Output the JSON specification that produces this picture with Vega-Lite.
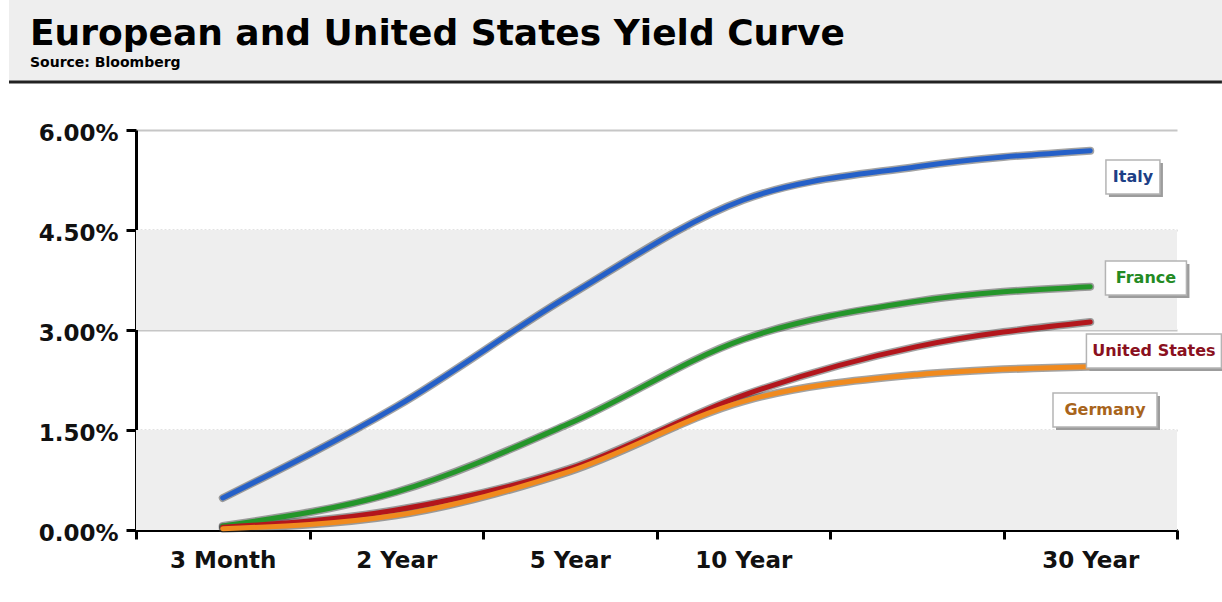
{
  "$schema": "https://vega.github.io/schema/vega-lite/v6.json",
  "width": 1041,
  "height": 400,
  "autosize": {"type": "none"},
  "padding": {"left": 136, "top": 130, "right": 45, "bottom": 72},
  "background": "white",
  "title": {
    "text": "European and United States Yield Curve",
    "subtitle": "Source: Bloomberg",
    "anchor": "start",
    "frame": "group",
    "dx": -106,
    "offset": -71,
    "font": "DejaVu Sans",
    "fontSize": 36,
    "fontWeight": "bold",
    "color": "#000000",
    "subtitleFont": "DejaVu Sans",
    "subtitleFontSize": 14,
    "subtitleFontWeight": "bold",
    "subtitleColor": "#000000",
    "subtitlePadding": 3
  },
  "config": {
    "view": {"stroke": null},
    "font": "DejaVu Sans"
  },
  "datasets": {
    "yields": [
      {"country": "Italy", "tenor": "3 Month", "step": 0, "yield": 0.48},
      {"country": "Italy", "tenor": "2 Year", "step": 1, "yield": 1.85},
      {"country": "Italy", "tenor": "5 Year", "step": 2, "yield": 3.52},
      {"country": "Italy", "tenor": "10 Year", "step": 3, "yield": 4.95},
      {"country": "Italy", "tenor": "20 Year", "step": 4, "yield": 5.45},
      {"country": "Italy", "tenor": "30 Year", "step": 5, "yield": 5.69},
      {"country": "France", "tenor": "3 Month", "step": 0, "yield": 0.06},
      {"country": "France", "tenor": "2 Year", "step": 1, "yield": 0.57},
      {"country": "France", "tenor": "5 Year", "step": 2, "yield": 1.60},
      {"country": "France", "tenor": "10 Year", "step": 3, "yield": 2.86},
      {"country": "France", "tenor": "20 Year", "step": 4, "yield": 3.43},
      {"country": "France", "tenor": "30 Year", "step": 5, "yield": 3.65},
      {"country": "United States", "tenor": "3 Month", "step": 0, "yield": 0.04},
      {"country": "United States", "tenor": "2 Year", "step": 1, "yield": 0.30},
      {"country": "United States", "tenor": "5 Year", "step": 2, "yield": 0.92},
      {"country": "United States", "tenor": "10 Year", "step": 3, "yield": 2.02},
      {"country": "United States", "tenor": "20 Year", "step": 4, "yield": 2.75},
      {"country": "United States", "tenor": "30 Year", "step": 5, "yield": 3.12},
      {"country": "Germany", "tenor": "3 Month", "step": 0, "yield": 0.02},
      {"country": "Germany", "tenor": "2 Year", "step": 1, "yield": 0.22},
      {"country": "Germany", "tenor": "5 Year", "step": 2, "yield": 0.88},
      {"country": "Germany", "tenor": "10 Year", "step": 3, "yield": 1.93},
      {"country": "Germany", "tenor": "20 Year", "step": 4, "yield": 2.33},
      {"country": "Germany", "tenor": "30 Year", "step": 5, "yield": 2.45}
    ],
    "labels": [
      {"country": "Italy", "label_step": 5.246, "label_yield": 5.295},
      {"country": "France", "label_step": 5.321, "label_yield": 3.78},
      {"country": "United States", "label_step": 5.367, "label_yield": 2.685},
      {"country": "Germany", "label_step": 5.085, "label_yield": 1.80}
    ],
    "bands": [
      {"lo": 0, "hi": 1.5},
      {"lo": 3, "hi": 4.5}
    ]
  },
  "encoding": {
    "x": {
      "type": "quantitative",
      "scale": {"domain": [-0.5, 5.5], "nice": false, "zero": false},
      "axis": {
        "title": null,
        "grid": false,
        "values": [-0.5, 0, 0.5, 1, 1.5, 2, 2.5, 3, 3.5, 4, 4.5, 5, 5.5],
        "labelExpr": "datum.value == 0 ? '3 Month' : datum.value == 1 ? '2 Year' : datum.value == 2 ? '5 Year' : datum.value == 3 ? '10 Year' : datum.value == 5 ? '30 Year' : ''",
        "labelOverlap": false,
        "labelBound": false,
        "labelFlush": false,
        "labelFont": "DejaVu Sans",
        "labelFontSize": 23,
        "labelFontWeight": "bold",
        "labelColor": "#111111",
        "labelPadding": 10,
        "tickSize": 9,
        "tickWidth": 3,
        "tickColor": "#000000",
        "tickOpacity": {"condition": {"test": "datum.value % 1 == 0", "value": 0}, "value": 1},
        "domainColor": "#000000",
        "domainWidth": 3
      }
    },
    "y": {
      "type": "quantitative",
      "scale": {"domain": [0, 6], "nice": false},
      "axis": {
        "title": null,
        "values": [0, 1.5, 3, 4.5, 6],
        "labelExpr": "format(datum.value, '.2f') + '%'",
        "labelFont": "DejaVu Sans",
        "labelFontSize": 23,
        "labelFontWeight": "bold",
        "labelColor": "#111111",
        "labelPadding": 8,
        "labelOffset": 3,
        "tickSize": 10,
        "tickWidth": 3,
        "tickColor": "#000000",
        "domainColor": "#000000",
        "domainWidth": 3,
        "grid": true,
        "gridColor": "#c6c6c6",
        "gridWidth": 2,
        "gridDash": {"condition": {"test": "datum.value == 1.5 || datum.value == 4.5", "value": [2, 2]}, "value": []}
      }
    }
  },
  "layer": [
    {
      "data": {"values": [{"part": "header"}]},
      "mark": {"type": "rect", "fill": "#eeeeee"},
      "encoding": {
        "x": {"datum": -1.232},
        "x2": {"datum": 5.759},
        "y": {"datum": 7.95},
        "y2": {"datum": 6.72}
      }
    },
    {
      "data": {"values": [{"part": "header rule"}]},
      "mark": {"type": "rule", "stroke": "#222222", "strokeWidth": 3},
      "encoding": {
        "x": {"datum": -1.232},
        "x2": {"datum": 5.759},
        "y": {"datum": 6.72}
      }
    },
    {
      "data": {"name": "bands"},
      "mark": {"type": "rect", "fill": "#eeeeee"},
      "encoding": {
        "y": {"field": "lo"},
        "y2": {"field": "hi"}
      }
    },
    {
      "data": {"name": "yields"},
      "mark": {"type": "line", "interpolate": "monotone", "stroke": "#333333", "strokeWidth": 8, "opacity": 0.45, "strokeCap": "round"},
      "encoding": {
        "x": {"field": "step"},
        "y": {"field": "yield"},
        "detail": {"field": "country", "type": "nominal"}
      }
    },
    {
      "data": {"name": "yields"},
      "mark": {"type": "line", "interpolate": "monotone", "strokeWidth": 5, "strokeCap": "round"},
      "encoding": {
        "x": {"field": "step"},
        "y": {"field": "yield"},
        "color": {
          "field": "country",
          "type": "nominal",
          "scale": {
            "domain": ["Italy", "France", "United States", "Germany"],
            "range": ["#2560c8", "#24962a", "#b3161c", "#f08a1e"]
          },
          "legend": null
        }
      }
    },
    {
      "data": {"name": "labels"},
      "mark": {"type": "point", "filled": true, "fill": "#9c9c9c", "opacity": 1, "size": 10000, "strokeWidth": 0},
      "encoding": {
        "x": {"field": "label_step"},
        "y": {"field": "label_yield"},
        "shape": {
          "field": "country",
          "type": "nominal",
          "scale": {
            "domain": ["Italy", "France", "United States", "Germany"],
            "range": [
              "M-0.48,-0.28H0.6V0.4H-0.48Z",
              "M-0.75,-0.28H0.87V0.4H-0.75Z",
              "M-1.29,-0.28H1.41V0.4H-1.29Z",
              "M-0.98,-0.28H1.1V0.4H-0.98Z"
            ]
          },
          "legend": null
        }
      }
    },
    {
      "data": {"name": "labels"},
      "mark": {"type": "point", "filled": true, "fill": "#ffffff", "stroke": "#b4b4b4", "strokeWidth": 1.5, "opacity": 1, "size": 10000},
      "encoding": {
        "x": {"field": "label_step"},
        "y": {"field": "label_yield"},
        "shape": {
          "field": "country",
          "type": "nominal",
          "scale": {
            "domain": ["Italy", "France", "United States", "Germany"],
            "range": [
              "M-0.54,-0.34H0.54V0.34H-0.54Z",
              "M-0.81,-0.34H0.81V0.34H-0.81Z",
              "M-1.35,-0.34H1.35V0.34H-1.35Z",
              "M-1.04,-0.34H1.04V0.34H-1.04Z"
            ]
          },
          "legend": null
        }
      }
    },
    {
      "data": {"name": "labels"},
      "mark": {"type": "text", "font": "DejaVu Sans", "fontSize": 16, "fontWeight": "bold", "align": "center", "baseline": "middle"},
      "encoding": {
        "x": {"field": "label_step"},
        "y": {"field": "label_yield"},
        "text": {"field": "country"},
        "fill": {
          "field": "country",
          "type": "nominal",
          "scale": {
            "domain": ["Italy", "France", "United States", "Germany"],
            "range": ["#1d3f86", "#238a23", "#8a1020", "#a8641c"]
          },
          "legend": null
        }
      }
    }
  ],
  "resolve": {"scale": {"shape": "independent"}}
}
